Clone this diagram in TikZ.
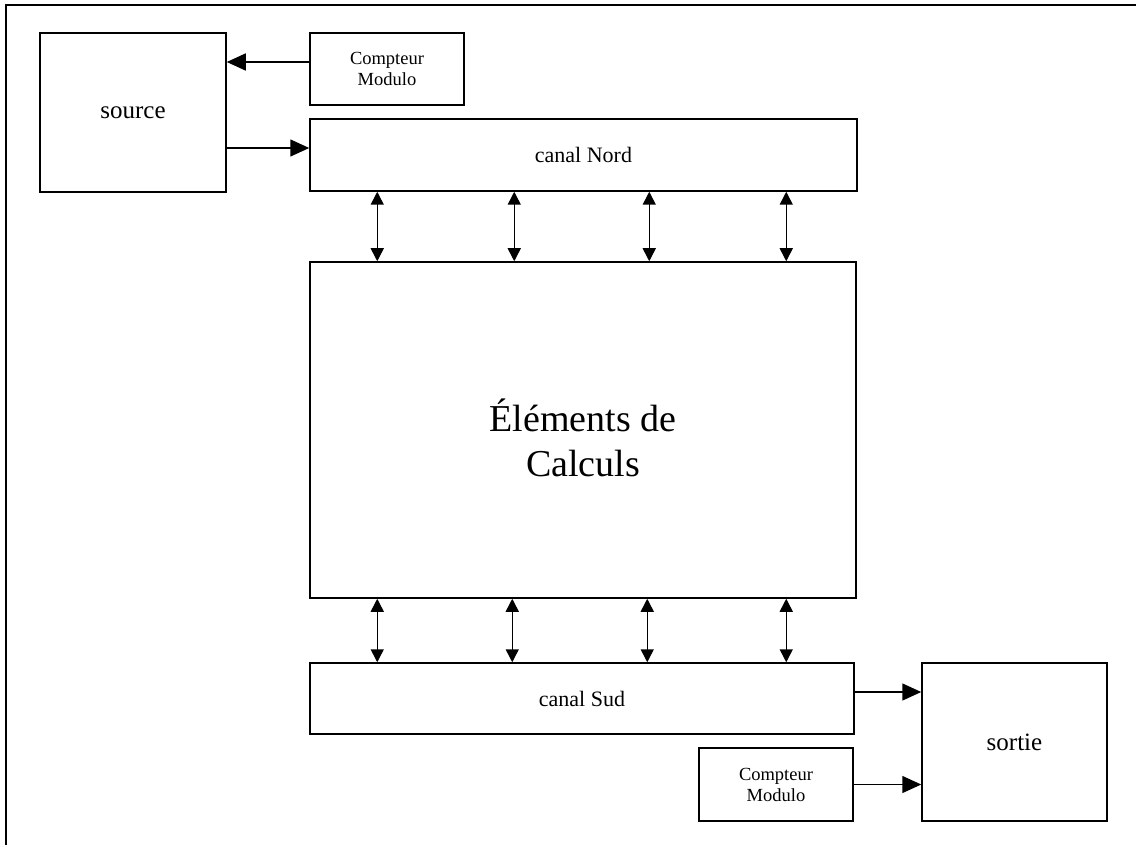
\documentclass[tikz,border=0pt]{standalone}
\usepackage{fontspec}
\setmainfont{Liberation Serif}
\usetikzlibrary{arrows.meta}

\tikzset{
  blk/.style={draw, line width=1.5pt, inner sep=0pt, align=center},
  small/.style={font=\fontsize{18.5}{21}\selectfont},
  mid/.style={font=\fontsize{22}{25}\selectfont},
  big/.style={font=\fontsize{25}{28}\selectfont},
  huge/.style={font=\fontsize{38}{45}\selectfont, align=center},
  harrow/.style={line width=1.5pt, -{Triangle[length=19pt,width=17pt]}},
  varrow/.style={line width=1.5pt, {Triangle[length=13pt,width=13pt]}-{Triangle[length=13pt,width=13pt]}},
  frame/.style={line width=1.8pt}
}

\begin{document}
\begin{tikzpicture}[x=1pt, y=-1pt]
  \useasboundingbox (0,0) rectangle (1136,845);

  % outer frame, running off the right and bottom edges
  \begin{scope}
    \clip (0,0) rectangle (1136,845);
    \draw[frame] (6,5) rectangle (1160,870);
  \end{scope}

  % blocks
  \node[blk, big,  minimum width=186pt, minimum height=159pt] (src)  at (133,112.5)  {source};
  \node[blk, small,minimum width=154pt, minimum height=72pt]  (cm1)  at (387,69)     {Compteur\\Modulo};
  \node[blk, mid,  minimum width=547pt, minimum height=72pt]  (cn)   at (583.5,155)  {canal Nord};
  \node[blk, minimum width=546pt, minimum height=336pt] (calc) at (583,430) {};
  \node[huge] (calctxt) at ([yshift=-8pt]calc.center) {Éléments de\\Calculs};
  \node[blk, mid,  minimum width=544pt, minimum height=71pt]  (cs)   at (582,698.5)  {canal Sud};
  \node[blk, small,minimum width=154pt, minimum height=73pt]  (cm2)  at (776,784.5)  {Compteur\\Modulo};
  \node[blk, big,  minimum width=185pt, minimum height=158pt] (out)  at (1014.5,742) {sortie};

  % horizontal connectors
  \coordinate (p1) at ([yshift=7pt]cm1.west);
  \draw[harrow] (p1) -- (p1 -| src.east);
  \coordinate (p2) at ([yshift=7pt]cn.west);
  \draw[harrow] (p2 -| src.east) -- (p2);
  \coordinate (p3) at ([yshift=6.5pt]cs.east);
  \draw[harrow] (p3) -- (p3 -| out.west);
  \draw[harrow] (cm2.east) -- (cm2.east -| out.west);

  % bidirectional links between the channels and the computing elements
  \foreach \dx in {68,205,340,477} {
    \draw[varrow] ([xshift=\dx pt]cn.south west) -- ([xshift=\dx pt]calc.north west);
  }
  \foreach \dx in {68,203,338,477} {
    \draw[varrow] ([xshift=\dx pt]calc.south west) -- ([xshift=\dx pt]cs.north west);
  }
\end{tikzpicture}
\end{document}
